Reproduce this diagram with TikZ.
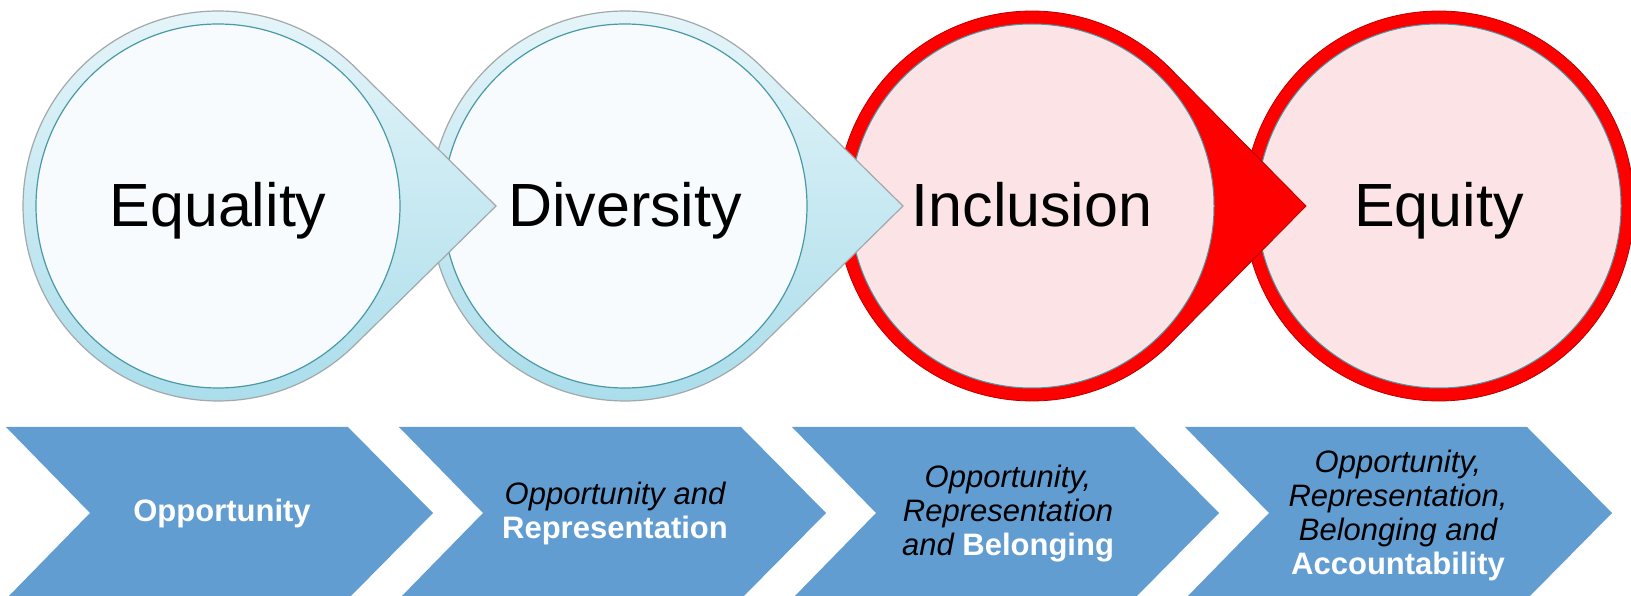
\documentclass[tikz,border=0pt]{standalone}
\usepackage{fontspec}
\setmainfont{Liberation Sans}
\definecolor{ringtop}{HTML}{E8F6FA}
\definecolor{ringbot}{HTML}{A8DCEA}
\definecolor{ringline}{HTML}{A3A8AA}
\definecolor{innerblue}{HTML}{F7FBFD}
\definecolor{innerline}{HTML}{4A99A6}
\definecolor{ringred}{HTML}{FF0000}
\definecolor{ringredline}{HTML}{B80000}
\definecolor{innerpink}{HTML}{FCE4E6}
\definecolor{chevblue}{HTML}{629DD2}
\newcommand\mytear[3]{\path[#1] (#3) -- ([shift={(45.46:195pt)}]#2) arc[start angle=45.46,end angle=314.54,radius=195pt] -- cycle;}
\newcommand\blk[1]{{\color{black}\mdseries\itshape #1}}
\begin{document}
\begin{tikzpicture}[x=1pt,y=1pt,
  bluering/.style={top color=ringtop,bottom color=ringbot,draw=ringline,line width=1.2pt},
  redring/.style={fill=ringred,draw=ringredline,line width=0.8pt},
  blueinner/.style={fill=innerblue,draw=innerline,line width=1.2pt},
  redinner/.style={fill=innerpink,draw=innerline,line width=1pt},
  bigword/.style={font=\fontsize{61}{70}\selectfont,text=black,anchor=base,inner sep=0pt},
  chev/.style={fill=chevblue,draw=none},
  chevtext/.style={font=\fontsize{31}{34}\selectfont\bfseries,align=center,text=white,inner sep=0pt},
]
\useasboundingbox (0,0) rectangle (1631,595);
\fill[white] (0,0) rectangle (1631,595);
\clip (0,0) rectangle (1631,595);
% centres and tips
\coordinate (c1) at (218,389);
\coordinate (c2) at (625,389);
\coordinate (c3) at (1032,389);
\coordinate (c4) at (1439,389);
\coordinate (t1) at (496,389);
\coordinate (t2) at (903,389);
\coordinate (t3) at (1306,389);
% circle 4 (Equity)
\path[redring] (c4) circle[radius=195pt];
\path[redinner] (c4) circle[radius=182pt];
% circle 3 (Inclusion)
\mytear{redring}{c3}{t3}
\path[redinner] (c3) circle[radius=182pt];
% circle 2 (Diversity)
\mytear{bluering}{c2}{t2}
\path[blueinner] (c2) circle[radius=182pt];
% circle 1 (Equality)
\mytear{bluering}{c1}{t1}
\path[blueinner] (c1) circle[radius=182pt];
% words
\node[bigword] (w1) at ([yshift=-21pt]c1) {Equality};
\node[bigword] (w2) at ([yshift=-21pt]c2) {Diversity};
\node[bigword] (w3) at ([yshift=-21pt]c3) {Inclusion};
\node[bigword] (w4) at ([yshift=-21pt]c4) {Equity};
% chevrons
\path[chev] (6,168) -- (348,168) -- (433,82) -- (348,-4) -- (6,-4) -- (90,82) -- cycle;
\path[chev] (399,168) -- (741,168) -- (826,82) -- (741,-4) -- (399,-4) -- (483,82) -- cycle;
\path[chev] (792,168) -- (1134,168) -- (1219,82) -- (1134,-4) -- (792,-4) -- (876,82) -- cycle;
\path[chev] (1185,168) -- (1527,168) -- (1612,82) -- (1527,-4) -- (1185,-4) -- (1269,82) -- cycle;
\node[chevtext] (s1) at (222,82) {Opportunity};
\node[chevtext] (s2) at (615,82) {\blk{Opportunity and}\\Representation};
\node[chevtext] (s3) at (1008,81) {\blk{Opportunity,}\\\blk{Representation}\\\blk{and} Belonging};
\node[chevtext] (s4) at (1398,80) {\blk{Opportunity,}\\\blk{Representation,}\\\blk{Belonging and}\\Accountability};
\end{tikzpicture}
\end{document}
